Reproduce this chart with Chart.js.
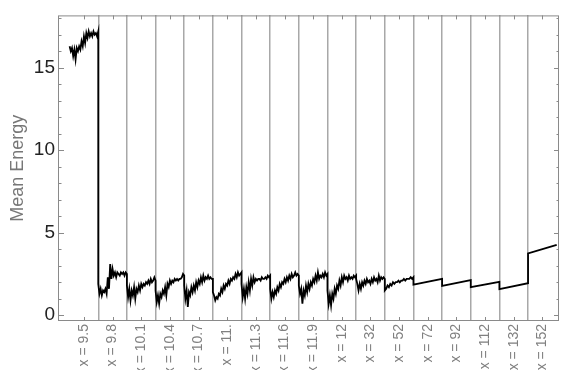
<!DOCTYPE html>
<html>
<head>
<meta charset="utf-8">
<script src="https://cdn.jsdelivr.net/npm/chart.js@4.4.1/dist/chart.umd.min.js"></script>
<style>
    html, body { margin: 0; padding: 0; background: #fff; }
</style>
</head>
<body>
<canvas id="energy_chart" width="564" height="370"></canvas>
<script>
// Parameter value of each run, one slot per run on the x axis.
var xLabels = ['9.5', '9.8', '10.1', '10.4', '10.7', '11.', '11.3', '11.6',
    '11.9', '12', '32', '52', '72', '92', '112', '132', '152'];

// Y axis major ticks.
var yTicks = [0, 5, 10, 15];

// Mean energy samples recorded during each run.
var e9_5 = [16.3, 16.0, 16.2, 15.7, 16.1, 15.5, 16.2, 16.0, 16.3, 16.1, 16.6, 16.3,
    16.9, 16.5, 17.1, 16.8, 17.2, 16.9, 17.1, 16.9, 17.2, 17.0, 17.1, 16.9, 17.2];
var e9_8 = [1.9, 1.3, 1.6, 1.2, 1.5, 1.4, 1.6, 1.3, 2.3, 1.6, 3.1, 2.2, 2.8, 2.4,
    2.6, 2.3, 2.6, 2.5, 2.4, 2.6, 2.5, 2.6, 2.4, 2.6, 2.5];
var e10_1 = [1.8, 1.1, 1.6, 0.9, 1.5, 1.2, 1.7, 1.0, 1.6, 1.4, 1.8, 1.5, 1.9, 1.7,
    1.9, 1.8, 2.0, 1.9, 2.1, 1.9, 2.2, 2.0, 2.1, 2.3, 2.1];
var e10_4 = [1.5, 0.8, 1.2, 0.7, 1.3, 1.1, 1.5, 1.3, 1.7, 1.2, 1.9, 1.7, 2.1, 1.9,
    2.1, 2.0, 2.2, 2.1, 2.2, 2.1, 2.2, 2.2, 2.3, 2.5, 2.4];
var e10_7 = [1.8, 1.0, 1.5, 0.5, 1.4, 1.2, 1.7, 1.4, 1.8, 1.5, 2.0, 1.7, 2.1, 1.9,
    2.3, 2.0, 2.4, 2.1, 2.3, 2.2, 2.4, 2.2, 2.3, 2.2, 2.2];
var e11 = [1.4, 1.2, 0.9, 1.1, 1.0, 1.3, 1.2, 1.6, 1.4, 1.8, 1.6, 1.9, 1.8, 2.1,
    1.9, 2.2, 2.1, 2.3, 2.2, 2.5, 2.3, 2.6, 2.4, 2.5, 2.6];
var e11_3 = [1.9, 1.1, 1.6, 1.0, 1.7, 1.3, 2.0, 1.5, 2.2, 1.8, 2.3, 2.0, 2.2, 2.1,
    2.2, 2.2, 2.1, 2.3, 2.2, 2.2, 2.3, 2.2, 2.4, 2.3, 2.4];
var e11_6 = [1.6, 1.0, 1.4, 1.1, 1.5, 1.3, 1.7, 1.5, 1.9, 1.7, 2.0, 1.9, 2.2, 2.0,
    2.3, 2.1, 2.4, 2.2, 2.5, 2.3, 2.4, 2.6, 2.4, 2.5, 2.4];
var e11_9 = [1.8, 1.3, 1.6, 0.7, 1.5, 1.2, 1.8, 1.4, 1.9, 1.6, 2.0, 1.8, 2.2, 2.0,
    2.4, 2.1, 2.6, 2.2, 2.4, 2.3, 2.5, 2.3, 2.6, 2.4, 2.5];
var e12 = [1.5, 0.7, 1.2, 0.6, 1.3, 1.0, 1.6, 1.3, 1.8, 1.6, 2.1, 1.8, 2.3, 2.0,
    2.4, 2.2, 2.3, 2.1, 2.4, 2.2, 2.3, 2.2, 2.4, 2.3, 2.4];
var e32 = [2.2, 1.9, 1.5, 1.9, 1.6, 2.0, 1.8, 2.1, 1.9, 2.2, 2.0, 2.1, 1.9, 2.2,
    2.0, 2.3, 2.1, 2.2, 2.0, 2.4, 2.1, 2.3, 2.2, 2.3, 2.2];
var e52 = [1.5, 1.6, 1.8, 1.7, 1.9, 1.8, 2.0, 1.9, 2.0, 2.0, 2.1, 2.0, 2.1, 2.1,
    2.2, 2.1, 2.2, 2.2, 2.2, 2.3, 2.2, 2.3];
var e72 = [1.86, 2.21];
var e92 = [1.78, 2.13];
var e112 = [1.70, 2.02];
var e132 = [1.58, 1.94];
var e152 = [3.75, 4.27];

var runs = [e9_5, e9_8, e10_1, e10_4, e10_7, e11, e11_3, e11_6, e11_9, e12,
    e32, e52, e72, e92, e112, e132, e152];

// Axis ranges.
var xMin = -0.87, xMax = 16.58;
var yMin = -0.35, yMax = 18.17;

Chart.defaults.font.family = 'Liberation Sans';

/**
 * Lays every run's samples across its own slot, so run i covers
 * i - 0.5 .. i + 0.5 and consecutive runs join with a vertical jump.
 */
function build_points() {
    var pts = [];
    runs.forEach(function(run, i) {
        run.forEach(function(v, k) {
            pts.push({x: i - 0.5 + k / (run.length - 1), y: v});
        });
    });
    return pts;
}

// Gray frame round the plot, with short inward ticks on all four sides.
const frameTicks = {
    id: 'frameTicks',
    afterDraw(chart) {
        const {ctx, chartArea: {left, top, right, bottom}, scales: {x, y}} = chart;
        ctx.save();
        ctx.strokeStyle = '#8a8a8a';
        ctx.lineWidth = 1;

        function seg(x1, y1, x2, y2) {
            ctx.beginPath();
            ctx.moveTo(x1, y1);
            ctx.lineTo(x2, y2);
            ctx.stroke();
        }

        ctx.strokeRect(left - 0.5, top + 0.5, right - left, bottom - top - 1);

        // Category ticks, top and bottom.
        xLabels.forEach(function(l, i) {
            var px = Math.round(x.getPixelForValue(i)) + 0.5;
            seg(px, bottom, px, bottom - 4);
            seg(px, top, px, top + 4);
        });

        // Major ticks every 5, minor every 1, left and right.
        for (var v = 0; v <= 18; v++) {
            var len = v % 5 === 0 ? 5 : 2.5;
            var py = Math.round(y.getPixelForValue(v)) + 0.5;
            seg(left, py, left + len, py);
            seg(right, py, right - len, py);
        }
        ctx.restore();
    }
};

function make_chart() {
    new Chart(document.getElementById('energy_chart'), {
        type: 'line',
        data: {
            datasets: [
                {
                    label: 'Mean Energy',
                    data: build_points(),
                    borderColor: '#000',
                    borderWidth: 1.8,
                    pointRadius: 0,
                    fill: false,
                    tension: 0
                }
            ]
        },
        options: {
            responsive: false,
            animation: false,
            layout: {
                padding: {top: 7, right: 5, left: 0, bottom: 0}
            },
            plugins: {
                legend: {display: false},
                tooltip: {enabled: false}
            },
            scales: {
                x: {
                    type: 'linear',
                    position: 'bottom',
                    min: xMin,
                    max: xMax,
                    afterBuildTicks: function(scale) {
                        scale.ticks = xLabels.map(function(l, i) {
                            return {value: i};
                        });
                    },
                    afterFit: function(scale) {
                        scale.height = 49;
                    },
                    grid: {display: false, drawTicks: false},
                    border: {display: false},
                    ticks: {
                        autoSkip: false,
                        minRotation: 90,
                        maxRotation: 90,
                        padding: 3,
                        color: '#808080',
                        font: {size: 14},
                        callback: function(value, index) {
                            return 'x = ' + xLabels[index];
                        }
                    }
                },
                // Separators between runs.
                xSep: {
                    type: 'linear',
                    position: 'top',
                    min: xMin,
                    max: xMax,
                    afterBuildTicks: function(scale) {
                        scale.ticks = xLabels.slice(1).map(function(l, i) {
                            return {value: i + 0.5};
                        });
                    },
                    afterFit: function(scale) {
                        scale.height = 0;
                    },
                    ticks: {display: false},
                    border: {display: false},
                    grid: {color: '#a8a8a8', lineWidth: 1.5, drawTicks: false}
                },
                y: {
                    type: 'linear',
                    min: yMin,
                    max: yMax,
                    afterBuildTicks: function(scale) {
                        scale.ticks = yTicks.map(function(v) {
                            return {value: v};
                        });
                    },
                    afterFit: function(scale) {
                        scale.width = 59;
                    },
                    grid: {display: false, drawTicks: false},
                    border: {display: false},
                    ticks: {
                        padding: 4,
                        color: '#222',
                        font: {size: 19}
                    },
                    title: {
                        display: true,
                        text: 'Mean Energy',
                        color: '#777',
                        padding: {top: 7, bottom: 0},
                        font: {size: 18}
                    }
                }
            }
        },
        plugins: [frameTicks]
    });
}

make_chart();
</script>
</body>
</html>
